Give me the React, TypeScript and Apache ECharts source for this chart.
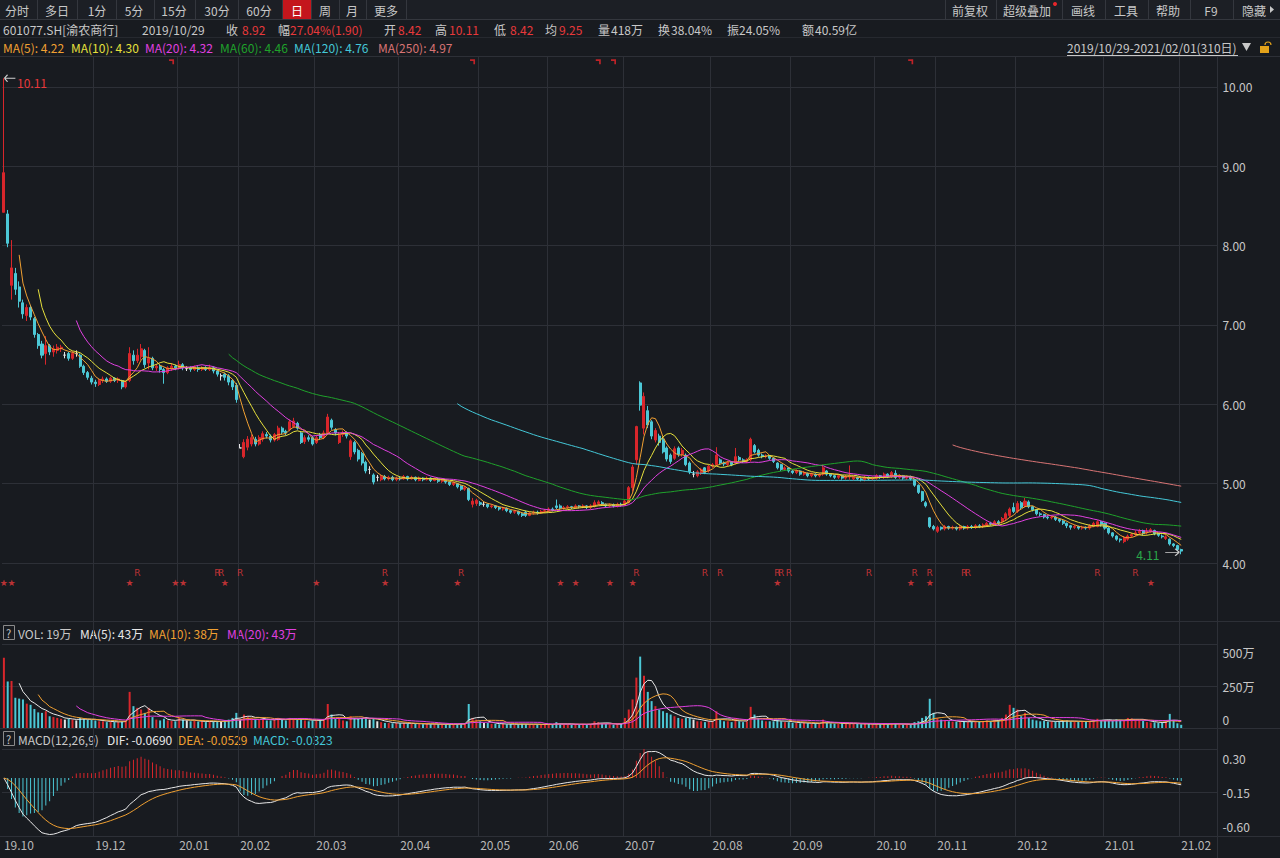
import React, { useEffect, useRef } from "react";
import * as echarts from "echarts";

// ---------- data ----------
const monthLabels = ["19.10","19.11","19.12","20.01","20.02","20.03","20.04","20.05","20.06","20.07","20.08","20.09","20.10","20.11","20.12","21.01","21.02"];
const monthDays = [3,21,22,16,20,22,21,18,20,23,21,22,16,21,23,20,1];
const hiddenLabelMonths = ["19.11"];
const noGridMonths = ["19.10","19.11"];
const padDays = 9;

// [open, close, low, high]
const ohlc: number[][] = [
  [8.42,8.92,8.42,10.11],[8.40,8.03,7.98,8.45],[7.50,7.72,7.32,8.07],
  // 2019-11
  [7.65,7.45,7.38,7.72],[7.48,7.30,7.22,7.55],[7.28,7.14,7.08,7.32],[7.12,7.22,7.05,7.26],[7.22,7.10,7.06,7.25],
  [7.08,6.88,6.84,7.10],[6.88,6.74,6.70,6.90],[6.76,6.62,6.58,6.80],[6.64,6.74,6.50,6.86],[6.74,6.66,6.62,6.76],
  [6.66,6.70,6.60,6.74],[6.68,6.72,6.64,6.76],[6.70,6.72,6.66,6.75],[6.62,6.62,6.58,6.66],[6.64,6.58,6.55,6.66],
  [6.58,6.64,6.56,6.67],[6.64,6.64,6.60,6.68],[6.62,6.48,6.46,6.64],[6.48,6.40,6.37,6.50],[6.40,6.34,6.31,6.42],
  [6.33,6.28,6.25,6.36],
  // 2019-12
  [6.28,6.26,6.22,6.31],[6.25,6.30,6.23,6.32],[6.30,6.32,6.27,6.35],[6.32,6.29,6.27,6.34],[6.29,6.33,6.27,6.35],
  [6.33,6.30,6.28,6.34],[6.30,6.32,6.27,6.34],[6.30,6.22,6.19,6.31],[6.22,6.28,6.20,6.30],[6.30,6.64,6.28,6.72],
  [6.62,6.55,6.50,6.68],[6.55,6.62,6.52,6.70],[6.60,6.70,6.56,6.76],[6.68,6.50,6.46,6.70],[6.52,6.58,6.44,6.72],
  [6.58,6.46,6.43,6.60],[6.46,6.48,6.42,6.51],[6.48,6.44,6.40,6.50],[6.44,6.40,6.26,6.46],[6.40,6.46,6.38,6.48],
  [6.46,6.48,6.42,6.52],[6.48,6.46,6.43,6.50],
  // 2020-01
  [6.46,6.50,6.44,6.55],[6.50,6.46,6.43,6.52],[6.45,6.45,6.42,6.48],[6.46,6.44,6.41,6.48],[6.44,6.47,6.42,6.49],
  [6.46,6.44,6.41,6.48],[6.44,6.46,6.42,6.48],[6.46,6.44,6.42,6.48],[6.44,6.46,6.42,6.50],[6.46,6.42,6.39,6.48],
  [6.42,6.38,6.35,6.44],[6.36,6.36,6.30,6.39],[6.38,6.34,6.30,6.40],[6.36,6.28,6.24,6.38],[6.30,6.22,6.18,6.32],
  [6.24,6.06,6.02,6.27],
  // 2020-02
  [5.45,5.45,5.45,5.50],[5.34,5.52,5.32,5.56],[5.46,5.56,5.42,5.60],[5.50,5.58,5.47,5.62],[5.56,5.50,5.47,5.59],
  [5.50,5.58,5.48,5.61],[5.56,5.63,5.53,5.66],[5.62,5.60,5.57,5.65],[5.60,5.55,5.52,5.62],[5.55,5.62,5.53,5.64],
  [5.56,5.70,5.54,5.73],[5.70,5.65,5.62,5.72],[5.66,5.64,5.61,5.68],[5.68,5.78,5.66,5.81],[5.72,5.79,5.70,5.83],
  [5.76,5.70,5.68,5.78],[5.64,5.52,5.50,5.66],[5.53,5.58,5.50,5.61],[5.58,5.56,5.53,5.61],[5.58,5.50,5.48,5.60],
  // 2020-03
  [5.52,5.58,5.50,5.61],[5.62,5.58,5.55,5.64],[5.58,5.64,5.56,5.67],[5.64,5.84,5.62,5.88],[5.80,5.71,5.68,5.82],
  [5.68,5.64,5.61,5.70],[5.52,5.62,5.50,5.65],[5.62,5.64,5.59,5.67],[5.64,5.60,5.57,5.66],[5.34,5.54,5.30,5.56],
  [5.52,5.40,5.37,5.54],[5.42,5.31,5.28,5.44],[5.38,5.26,5.23,5.40],[5.27,5.16,5.13,5.29],[5.18,5.18,5.12,5.22],
  [5.11,5.02,4.99,5.13],[5.08,5.08,5.03,5.11],[5.05,5.09,5.03,5.11],[5.09,5.06,5.04,5.11],[5.06,5.08,5.04,5.10],
  [5.08,5.05,5.03,5.10],[5.05,5.07,5.03,5.09],
  // 2020-04
  [5.07,5.06,5.04,5.09],[5.06,5.09,5.05,5.11],[5.09,5.06,5.04,5.10],[5.06,5.08,5.05,5.10],[5.08,5.05,5.03,5.09],
  [5.04,5.07,5.03,5.09],[5.07,5.05,5.03,5.08],[5.05,5.07,5.04,5.09],[5.07,5.04,5.02,5.08],[5.04,5.06,5.03,5.08],
  [5.06,5.03,5.01,5.07],[5.03,5.04,5.01,5.06],[5.04,5.02,5.00,5.05],[5.02,4.99,4.97,5.03],[4.99,5.01,4.97,5.03],
  [5.00,4.96,4.94,5.01],[4.97,4.93,4.91,4.98],[4.93,4.95,4.91,4.97],[4.94,4.80,4.78,4.95],[4.74,4.78,4.70,4.82],
  [4.75,4.79,4.72,4.81],
  // 2020-05
  [4.76,4.74,4.72,4.78],[4.74,4.74,4.71,4.77],[4.74,4.71,4.69,4.75],[4.71,4.72,4.69,4.74],[4.72,4.70,4.68,4.73],
  [4.70,4.68,4.66,4.71],[4.68,4.69,4.66,4.71],[4.69,4.66,4.64,4.70],[4.66,4.64,4.62,4.67],[4.64,4.65,4.62,4.67],
  [4.65,4.62,4.60,4.66],[4.62,4.60,4.58,4.63],[4.64,4.60,4.58,4.66],[4.60,4.63,4.59,4.64],[4.63,4.64,4.61,4.66],
  [4.64,4.63,4.61,4.66],[4.63,4.65,4.62,4.67],[4.65,4.66,4.63,4.68],
  // 2020-06
  [4.66,4.68,4.64,4.70],[4.68,4.67,4.65,4.70],[4.72,4.70,4.68,4.80],[4.72,4.69,4.67,4.74],[4.69,4.70,4.67,4.72],
  [4.70,4.71,4.68,4.73],[4.71,4.70,4.68,4.72],[4.70,4.72,4.68,4.74],[4.72,4.71,4.69,4.73],[4.71,4.72,4.69,4.74],
  [4.72,4.70,4.68,4.73],[4.70,4.72,4.68,4.74],[4.72,4.76,4.70,4.79],[4.75,4.77,4.73,4.79],[4.76,4.74,4.72,4.78],
  [4.74,4.72,4.70,4.75],[4.72,4.73,4.70,4.75],[4.73,4.72,4.70,4.75],[4.72,4.74,4.70,4.76],[4.74,4.73,4.71,4.76],
  // 2020-07
  [4.73,4.78,4.72,4.80],[4.76,4.95,4.75,4.97],[4.95,5.21,4.90,5.24],[5.30,5.72,5.24,5.73],[6.27,5.99,5.92,6.29],
  [5.70,6.10,5.62,6.15],[5.92,5.74,5.70,5.98],[5.78,5.60,5.56,5.80],[5.55,5.67,5.52,5.70],[5.60,5.52,5.48,5.63],
  [5.56,5.40,5.38,5.58],[5.45,5.31,5.28,5.47],[5.36,5.28,5.25,5.38],[5.32,5.44,5.30,5.47],[5.45,5.37,5.34,5.47],
  [5.37,5.42,5.34,5.45],[5.36,5.24,5.22,5.38],[5.26,5.15,5.12,5.28],[5.12,5.12,5.08,5.16],[5.10,5.15,5.08,5.17],
  [5.13,5.18,5.11,5.20],[5.20,5.14,5.12,5.21],[5.16,5.22,5.14,5.24],
  // 2020-08
  [5.22,5.24,5.20,5.26],[5.24,5.36,5.22,5.46],[5.30,5.26,5.24,5.32],[5.26,5.25,5.22,5.28],[5.24,5.27,5.22,5.29],
  [5.27,5.24,5.22,5.28],[5.26,5.34,5.24,5.45],[5.33,5.30,5.28,5.35],[5.30,5.28,5.26,5.32],[5.28,5.30,5.26,5.32],
  [5.30,5.56,5.28,5.58],[5.48,5.40,5.38,5.50],[5.42,5.36,5.34,5.44],[5.36,5.34,5.32,5.38],[5.34,5.35,5.32,5.37],
  [5.35,5.32,5.30,5.36],[5.32,5.28,5.26,5.33],[5.26,5.20,5.18,5.27],[5.24,5.18,5.16,5.25],[5.18,5.20,5.16,5.22],
  [5.20,5.16,5.14,5.21],
  // 2020-09
  [5.16,5.14,5.12,5.17],[5.14,5.16,5.12,5.18],[5.16,5.12,5.10,5.17],[5.12,5.14,5.10,5.16],[5.13,5.10,5.08,5.14],
  [5.10,5.12,5.08,5.14],[5.12,5.10,5.08,5.13],[5.10,5.11,5.08,5.13],[5.12,5.20,5.10,5.24],[5.16,5.12,5.10,5.17],
  [5.12,5.10,5.08,5.13],[5.10,5.08,5.06,5.11],[5.08,5.10,5.06,5.12],[5.10,5.07,5.05,5.11],[5.07,5.09,5.05,5.11],
  [5.09,5.10,5.05,5.23],[5.06,5.08,5.04,5.10],[5.08,5.06,5.04,5.09],[5.06,5.05,5.03,5.08],[5.05,5.08,5.03,5.10],
  [5.08,5.06,5.04,5.09],[5.06,5.07,5.04,5.09],
  // 2020-10
  [5.07,5.10,5.05,5.12],[5.10,5.08,5.06,5.11],[5.08,5.12,5.06,5.14],[5.12,5.09,5.07,5.13],[5.09,5.14,5.07,5.16],
  [5.13,5.08,5.06,5.17],[5.08,5.10,5.06,5.12],[5.10,5.07,5.05,5.11],[5.07,5.09,5.05,5.10],[5.09,5.06,5.04,5.10],
  [5.05,4.98,4.96,5.06],[4.98,4.89,4.87,4.99],[4.90,4.79,4.77,4.91],[4.76,4.72,4.70,4.78],[4.57,4.46,4.44,4.58],
  [4.46,4.43,4.41,4.48],
  // 2020-11
  [4.40,4.45,4.38,4.47],[4.45,4.43,4.41,4.46],[4.43,4.46,4.41,4.48],[4.46,4.44,4.42,4.47],[4.44,4.45,4.42,4.47],
  [4.45,4.43,4.41,4.46],[4.43,4.46,4.41,4.48],[4.46,4.44,4.42,4.47],[4.44,4.46,4.42,4.48],[4.46,4.45,4.43,4.48],
  [4.45,4.47,4.43,4.49],[4.47,4.46,4.44,4.49],[4.46,4.48,4.44,4.50],[4.48,4.50,4.46,4.52],[4.50,4.49,4.47,4.52],
  [4.49,4.52,4.47,4.54],[4.52,4.50,4.48,4.54],[4.52,4.56,4.50,4.58],[4.56,4.62,4.54,4.64],[4.60,4.68,4.58,4.70],
  [4.70,4.65,4.63,4.76],
  // 2020-12
  [4.65,4.75,4.63,4.78],[4.76,4.70,4.68,4.78],[4.72,4.78,4.70,4.82],[4.77,4.71,4.69,4.79],[4.71,4.67,4.65,4.72],
  [4.67,4.62,4.60,4.68],[4.62,4.61,4.59,4.64],[4.61,4.58,4.56,4.62],[4.58,4.57,4.55,4.60],[4.57,4.58,4.55,4.60],
  [4.58,4.55,4.53,4.59],[4.55,4.53,4.51,4.56],[4.53,4.50,4.48,4.54],[4.50,4.47,4.44,4.51],[4.47,4.45,4.42,4.48],
  [4.45,4.46,4.43,4.48],[4.46,4.44,4.42,4.47],[4.44,4.45,4.42,4.47],[4.45,4.44,4.42,4.46],[4.44,4.47,4.42,4.49],
  [4.47,4.50,4.45,4.52],[4.46,4.52,4.45,4.54],[4.52,4.48,4.46,4.53],
  // 2021-01
  [4.50,4.44,4.42,4.51],[4.44,4.38,4.36,4.45],[4.38,4.34,4.32,4.39],[4.34,4.30,4.28,4.35],[4.30,4.29,4.26,4.31],
  [4.27,4.32,4.25,4.34],[4.30,4.34,4.28,4.36],[4.34,4.36,4.32,4.38],[4.36,4.38,4.34,4.41],[4.38,4.40,4.36,4.43],
  [4.41,4.37,4.35,4.42],[4.38,4.40,4.36,4.44],[4.40,4.42,4.38,4.44],[4.41,4.37,4.35,4.42],[4.37,4.35,4.33,4.38],
  [4.34,4.33,4.31,4.36],[4.31,4.33,4.29,4.35],[4.30,4.24,4.22,4.31],[4.24,4.22,4.20,4.25],[4.22,4.17,4.15,4.23],
  // 2021-02
  [4.17,4.15,4.11,4.18],
];

// volume, 万手
const volumes: number[] = [
  418,277,280,
  180,175,170,145,138,113,93,90,100,70,65,60,55,50,55,50,45,60,55,50,48,
  45,40,40,35,38,35,35,40,45,215,130,120,110,90,120,65,50,45,55,45,42,40,
  60,50,45,40,42,38,40,35,38,40,42,40,45,50,60,90,
  50,80,70,60,55,50,55,45,45,50,60,50,45,60,55,50,55,45,40,45,
  45,50,55,143,80,55,60,45,40,70,60,55,60,65,50,55,40,35,30,30,28,30,
  28,30,26,25,24,26,22,24,22,25,22,20,22,24,22,25,28,25,143,60,50,
  40,30,30,25,24,22,25,22,24,20,22,25,24,22,20,22,20,22,
  22,20,35,25,20,22,20,24,20,22,20,24,40,35,28,24,22,20,24,25,
  60,110,170,300,425,311,215,160,130,110,100,90,80,70,60,55,60,60,50,40,40,35,40,
  40,100,50,40,40,35,60,40,35,40,126,80,60,45,40,40,40,50,40,35,35,
  32,30,28,30,28,26,28,25,50,30,28,26,25,28,26,25,28,24,22,25,24,22,
  24,22,25,22,28,26,22,20,22,20,35,40,60,70,174,90,
  60,50,45,40,38,36,40,38,35,40,38,36,42,45,40,50,45,60,80,138,120,
  110,70,90,60,50,45,40,42,38,40,38,40,42,45,40,38,36,40,38,42,50,55,45,
  48,48,42,52,47,42,60,57,52,47,42,35,32,34,30,32,40,84,45,28,
  19,
];

const maPeriods = [5, 10, 20, 60, 120, 250];
const maColors = ["#f0a032", "#e6e03c", "#e040e0", "#1fa22b", "#44c8d8", "#d87474"];
const maLegendValues = ["4.22", "4.30", "4.32", "4.46", "4.76", "4.97"];
const volMaPeriods = [5, 10, 20];
const volMaColors = ["#e8e8e8", "#f0a032", "#e040e0"];
const volLegendValues = ["19万", "43万", "38万", "43万"];
const macdLegendValues = ["-0.0690", "-0.0529", "-0.0323"];
const priceTicks = [4, 5, 6, 7, 8, 9, 10];
const starDays = [0, 2, 33, 45, 47, 58, 82, 100, 119, 146, 150, 159, 165, 203, 238, 243, 301];
const rDays = [35, 56, 57, 62, 100, 120, 166, 184, 188, 203, 204, 206, 227, 239, 243, 252, 253, 287, 297];
const flagDays = [44, 123, 156, 160, 238];

// ---------- styles ----------
const FONT = '"Microsoft YaHei","Noto Sans CJK SC","Noto Sans",sans-serif';
const BG = "#181b20";
const GRID = "#2d3037";
const TXT = "#c8c8c8";
const UP = "#d8262b";
const DOWN = "#4cc8d6";
const DOJI = "#e6e6e6";
const RED_TXT = "#e8393b";

function buildOption() {
  const cats: string[] = [];
  const monthStart = new Map<number, string>();
  monthLabels.forEach((m, k) => {
    for (let d = 0; d < monthDays[k]; d++) {
      if (d === 0) monthStart.set(cats.length, m);
      cats.push(m + "#" + (d + 1));
    }
  });
  for (let i = 0; i < padDays; i++) cats.push("pad" + i);

  const closes = ohlc.map((r) => r[1]);
  const sma = (arr: number[], n: number) =>
    arr.map((_, i) => (i < n - 1 ? "-" : +(arr.slice(i - n + 1, i + 1).reduce((a, b) => a + b, 0) / n).toFixed(4)));
  const ema = (arr: number[], n: number) => {
    const out: number[] = [];
    let prev = arr[0];
    arr.forEach((v, i) => {
      prev = i === 0 ? v : (2 * v + (n - 1) * prev) / (n + 1);
      out.push(prev);
    });
    return out;
  };
  const e12 = ema(closes, 12);
  const e26 = ema(closes, 26);
  const dif = e12.map((v, i) => v - e26[i]);
  const dea = ema(dif, 9);
  const macd = dif.map((v, i) => 2 * (v - dea[i]));

  let hiIdx = 0, loIdx = 0;
  ohlc.forEach((r, i) => {
    if (r[3] > ohlc[hiIdx][3]) hiIdx = i;
    if (r[2] < ohlc[loIdx][2]) loIdx = i;
  });

  const candleData = ohlc.map(([o, c, l, h]) =>
    o === c
      ? { value: [o, c, l, h], itemStyle: { color: DOJI, color0: DOJI, borderColor: DOJI, borderColor0: DOJI } }
      : [o, c, l, h]
  );
  const volData = volumes.map((v, i) => ({
    value: v,
    itemStyle: { color: ohlc[i][1] > ohlc[i][0] ? UP : ohlc[i][1] < ohlc[i][0] ? DOWN : DOJI },
  }));
  const macdData = macd.map((v) => ({ value: +v.toFixed(4), itemStyle: { color: v >= 0 ? UP : DOWN } }));

  const isGridIdx = (i: number) => monthStart.has(i) && !noGridMonths.includes(monthStart.get(i)!);
  const isLabelIdx = (i: number) => monthStart.has(i) && !hiddenLabelMonths.includes(monthStart.get(i)!);

  const T = (x: number, y: number, text: string, fill = TXT, size = 12) => ({
    type: "text", x, y, silent: true,
    style: { text, fill, font: `${size}px ${FONT}`, textVerticalAlign: "middle", verticalAlign: "middle" },
  });
  const L = (x1: number, y1: number, x2: number, y2: number, stroke = GRID) => ({
    type: "line", silent: true, shape: { x1, y1, x2, y2 }, style: { stroke, lineWidth: 1 },
  });
  const CT = (cx: number, y: number, text: string, fill = TXT) => ({
    type: "text", x: cx, y, silent: true,
    style: { text, fill, font: `12px ${FONT}`, textAlign: "center", align: "center", textVerticalAlign: "middle", verticalAlign: "middle" },
  });

  const leftBtns: [number, string][] = [[17,"分时"],[57,"多日"],[97,"1分"],[134,"5分"],[174,"15分"],[217,"30分"],[259,"60分"],[297,"日"],[325,"周"],[352,"月"],[386,"更多"]];
  const leftSeps = [37, 77, 116, 154, 195, 238, 282, 311, 339, 366, 406];
  const rightBtns: [number, string][] = [[970,"前复权"],[1027,"超级叠加"],[1083,"画线"],[1126,"工具"],[1168,"帮助"],[1211,"F9"],[1254,"隐藏"]];
  const rightSeps = [945, 996, 1062, 1105, 1148, 1190, 1233];

  const graphics: any[] = [
    { type: "rect", silent: true, shape: { x: 0, y: 0, width: 1280, height: 19 }, style: { fill: "#1c1f25" } },
    { type: "rect", silent: true, shape: { x: 282, y: 0, width: 29, height: 19 }, style: { fill: "#c4161c" } },
    ...leftSeps.map((x) => L(x + 0.5, 0, x + 0.5, 19, "#34373e")),
    ...rightSeps.map((x) => L(x + 0.5, 0, x + 0.5, 19, "#34373e")),
    ...leftBtns.map(([x, t]) => CT(x, 10, t, t === "日" ? "#ffffff" : TXT)),
    ...rightBtns.map(([x, t]) => CT(x, 10, t, TXT)),
    { type: "circle", silent: true, shape: { cx: 1055, cy: 4, r: 2 }, style: { fill: "#e8262b" } },
    { type: "polygon", silent: true, shape: { points: [[1270, 6], [1274, 9.5], [1270, 13]] }, style: { fill: TXT } },
    L(0, 19.5, 1280, 19.5, "#34373e"),
    // info row
    T(3, 29, "601077.SH[渝农商行]"),
    T(142, 29, "2019/10/29"),
    T(226, 29, "收"), T(242, 29, "8.92", RED_TXT),
    T(278, 29, "幅"), T(290, 29, "27.04%(1.90)", RED_TXT),
    T(384, 29, "开"), T(398, 29, "8.42", RED_TXT),
    T(435, 29, "高"), T(449, 29, "10.11", RED_TXT),
    T(494, 29, "低"), T(510, 29, "8.42", RED_TXT),
    T(545, 29, "均"), T(559, 29, "9.25", RED_TXT),
    T(598, 29, "量"), T(611, 29, "418万"),
    T(658, 29, "换"), T(671, 29, "38.04%"),
    T(727, 29, "振"), T(739, 29, "24.05%"),
    T(802, 29, "额"), T(815, 29, "40.59亿"),
    L(0, 37.5, 1280, 37.5, "#26292f"),
    // MA legend
    ...maPeriods.map((p, k) => T([3, 71, 145, 220, 294, 378][k], 47, `MA(${p}): ${maLegendValues[k]}`, maColors[k])),
    T(1067, 47, "2019/10/29-2021/02/01(310日)"),
    L(1067, 55.5, 1238, 55.5, TXT),
    { type: "polygon", silent: true, shape: { points: [[1242, 43], [1251, 43], [1246.5, 51]] }, style: { fill: TXT } },
    { type: "rect", silent: true, shape: { x: 1260, y: 46, width: 9, height: 7 }, style: { fill: "#e3a21a" } },
    { type: "arc", silent: true, shape: { cx: 1268, cy: 45, r: 3, startAngle: Math.PI, endAngle: Math.PI * 2 }, style: { stroke: "#e3a21a", lineWidth: 1.2, fill: "none" } },
    // separators
    L(0, 56.5, 1280, 56.5), L(0, 621.5, 1280, 621.5), L(0, 728.5, 1280, 728.5), L(0, 836.5, 1280, 836.5),
    L(1217.5, 57, 1217.5, 858),
    // volume header
    { type: "rect", silent: true, shape: { x: 3.5, y: 625.5, width: 11, height: 14 }, style: { fill: "none", stroke: "#8a8a8a", lineWidth: 1 } },
    T(6, 633, "?", TXT, 11),
    T(18, 633, `VOL: ${volLegendValues[0]}`),
    ...volMaPeriods.map((p, k) => T([80, 149, 227][k], 633, `MA(${p}): ${volLegendValues[k + 1]}`, volMaColors[k])),
    // macd header
    { type: "rect", silent: true, shape: { x: 3.5, y: 731.5, width: 11, height: 14 }, style: { fill: "none", stroke: "#8a8a8a", lineWidth: 1 } },
    T(6, 739, "?", TXT, 11),
    T(18, 739, "MACD(12,26,9)"),
    T(107, 739, `DIF: ${macdLegendValues[0]}`, "#e8e8e8"),
    T(178, 739, `DEA: ${macdLegendValues[1]}`, "#f0a032"),
    T(253, 739, `MACD: ${macdLegendValues[2]}`, "#44c8d8"),
  ];

  const hiddenX = (gi: number) => ({
    type: "category", gridIndex: gi, data: cats, boundaryGap: true,
    axisLine: { show: false }, axisTick: { show: false }, axisLabel: { show: false }, splitLine: { show: false },
  });

  const maSeries = maPeriods.map((p, k) => ({
    type: "line", name: "MA" + p, xAxisIndex: 0, yAxisIndex: 0, data: sma(closes, p),
    showSymbol: false, symbol: "none", smooth: false, z: 4, silent: true,
    lineStyle: { width: 1, color: maColors[k] }, itemStyle: { color: maColors[k] },
  }));
  const volMaSeries = volMaPeriods.map((p, k) => ({
    type: "line", xAxisIndex: 1, yAxisIndex: 1, data: sma(volumes, p),
    showSymbol: false, symbol: "none", z: 4, silent: true,
    lineStyle: { width: 1, color: volMaColors[k] },
  }));

  const arrowL = "path://M0,4L4,0M0,4L4,8M0,4L14,4";
  const arrowR = "path://M14,4L10,0M14,4L10,8M0,4L14,4";

  return {
    animation: false,
    backgroundColor: BG,
    textStyle: { fontFamily: FONT },
    graphic: { elements: graphics },
    grid: [
      { left: 2, top: 57, width: 1215.4, height: 564 },
      { left: 2, top: 644, width: 1215.4, height: 84 },
      { left: 2, top: 749, width: 1215.4, height: 87 },
      { left: 2, top: 57, width: 1215.4, height: 779 },
    ],
    xAxis: [
      hiddenX(0),
      hiddenX(1),
      {
        type: "category", gridIndex: 2, data: cats, boundaryGap: true,
        axisLine: { show: false },
        axisTick: { show: false },
        splitLine: { show: false },
        axisLabel: {
          show: true, interval: (i: number) => isLabelIdx(i),
          formatter: (v: string) => v.split("#")[0],
          color: "#b8b8b8", fontSize: 12, fontFamily: FONT, align: "left", margin: 2,
        },
      },
      {
        type: "category", gridIndex: 3, data: cats, boundaryGap: true,
        axisLine: { show: false }, axisTick: { show: false }, axisLabel: { show: false },
        splitLine: { show: true, interval: (i: number) => isGridIdx(i), lineStyle: { color: GRID, width: 1 } },
      },
    ],
    yAxis: [
      {
        type: "value", gridIndex: 0, position: "right", min: 3.269, max: 10.378, scale: true,
        axisLine: { show: false }, axisTick: { show: false }, axisLabel: { show: false }, splitLine: { show: false },
      },
      {
        type: "value", gridIndex: 1, position: "right", min: 0, max: 500, interval: 250,
        axisLine: { show: false }, axisTick: { show: false },
        splitLine: { show: true, lineStyle: { color: GRID } },
        axisLabel: {
          color: TXT, fontSize: 12, fontFamily: FONT, margin: 5,
          formatter: (v: number) => (v === 500 ? "{t|500万}" : v === 0 ? "{b|0}" : "250万"),
          rich: { t: { padding: [16, 0, 0, 0], color: TXT, fontSize: 12 }, b: { padding: [0, 0, 18, 0], color: TXT, fontSize: 12 } },
        },
      },
      {
        type: "value", gridIndex: 2, position: "right", min: -0.6, max: 0.3, interval: 0.45,
        axisLine: { show: false }, axisTick: { show: false },
        splitLine: { show: true, lineStyle: { color: GRID } },
        axisLabel: {
          color: TXT, fontSize: 12, fontFamily: FONT, margin: 5,
          formatter: (v: number) => {
            const s = v.toFixed(2);
            return v > 0.2 ? `{t|${s}}` : v < -0.5 ? `{b|${s}}` : s;
          },
          rich: { t: { padding: [18, 0, 0, 0], color: TXT, fontSize: 12 }, b: { padding: [0, 0, 20, 0], color: TXT, fontSize: 12 } },
        },
      },
      { type: "value", gridIndex: 3, show: false, min: 0, max: 1 },
    ],
    series: [
      {
        type: "line", xAxisIndex: 0, yAxisIndex: 0, data: [], z: 1, silent: true,
        markLine: {
          silent: true, symbol: ["none", "none"], z: 1,
          lineStyle: { color: GRID, type: "solid", width: 1 },
          label: { show: true, position: "end", distance: 5, color: TXT, fontSize: 12, fontFamily: FONT, formatter: (p: any) => Number(p.value).toFixed(2) },
          data: priceTicks.map((v) => ({ yAxis: v })),
        },
      },
      {
        type: "candlestick", xAxisIndex: 0, yAxisIndex: 0, data: candleData, z: 3, barWidth: "66%", silent: true,
        itemStyle: { color: UP, color0: DOWN, borderColor: UP, borderColor0: DOWN, borderWidth: 1 },
        markPoint: {
          silent: true, animation: false,
          data: [
            {
              coord: [hiIdx, ohlc[hiIdx][3]], symbol: arrowL, symbolSize: [11, 7], symbolOffset: [6, 0],
              itemStyle: { color: "rgba(0,0,0,0)", borderColor: "#d0d0d0", borderWidth: 1 },
              label: { show: true, position: "right", distance: 1, offset: [0, 4], formatter: ohlc[hiIdx][3].toFixed(2), color: RED_TXT, fontSize: 12, fontFamily: FONT },
            },
            {
              coord: [loIdx, ohlc[loIdx][2]], symbol: arrowR, symbolSize: [14, 7], symbolOffset: [-9, -2],
              itemStyle: { color: "rgba(0,0,0,0)", borderColor: "#d0d0d0", borderWidth: 1 },
              label: { show: true, position: "left", distance: 5, offset: [0, 2], formatter: ohlc[loIdx][2].toFixed(2), color: "#2aa84a", fontSize: 12, fontFamily: FONT },
            },
          ],
        },
      },
      ...maSeries,
      {
        type: "scatter", xAxisIndex: 0, yAxisIndex: 0, z: 5, silent: true, symbolSize: 1,
        itemStyle: { color: "rgba(0,0,0,0)" },
        label: { show: true, position: "inside", formatter: "R", color: "#e8393b", fontSize: 9, fontFamily: "DejaVu Sans" },
        data: rDays.map((d) => [d, 3.874]),
      },
      {
        type: "scatter", xAxisIndex: 0, yAxisIndex: 0, z: 5, silent: true, symbolSize: 1,
        itemStyle: { color: "rgba(0,0,0,0)" },
        label: { show: true, position: "inside", formatter: "★", color: "#e8393b", fontSize: 9, fontFamily: "DejaVu Sans" },
        data: starDays.map((d) => [d, 3.748]),
      },
      {
        type: "scatter", xAxisIndex: 0, yAxisIndex: 0, z: 5, silent: true,
        symbol: "path://M0,0L6,0L6,6L4,6L4,2L0,2Z", symbolSize: 5,
        itemStyle: { color: "#e8262b" },
        data: flagDays.map((d) => [d, 10.318]),
      },
      {
        type: "bar", xAxisIndex: 1, yAxisIndex: 1, data: volData, barWidth: 2, silent: true, z: 3,
      },
      ...volMaSeries,
      {
        type: "bar", xAxisIndex: 2, yAxisIndex: 2, data: macdData, barWidth: 1, silent: true, z: 3,
      },
      {
        type: "line", xAxisIndex: 2, yAxisIndex: 2, data: dif.map((v) => +v.toFixed(4)), showSymbol: false, symbol: "none",
        lineStyle: { width: 1, color: "#e8e8e8" }, z: 4, silent: true,
      },
      {
        type: "line", xAxisIndex: 2, yAxisIndex: 2, data: dea.map((v) => +v.toFixed(4)), showSymbol: false, symbol: "none",
        lineStyle: { width: 1, color: "#f0a032" }, z: 4, silent: true,
      },
    ],
  };
}

export default function App() {
  const ref = useRef<HTMLDivElement>(null);
  useEffect(() => {
    if (!ref.current) return;
    const chart = echarts.init(ref.current, null, { renderer: "svg" });
    chart.setOption(buildOption() as any);
    return () => chart.dispose();
  }, []);
  return (
    <div
      ref={ref}
      style={{ position: "fixed", left: 0, top: 0, width: 1280, height: 858, background: BG }}
    />
  );
}
